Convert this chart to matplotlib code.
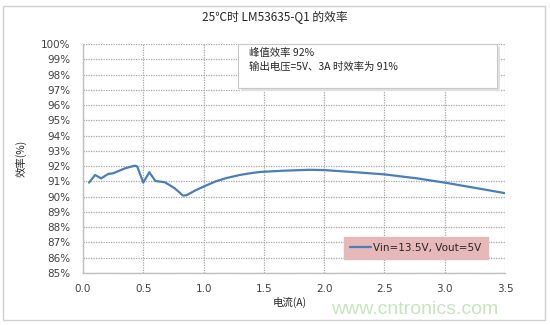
import matplotlib
matplotlib.use("Agg")
import matplotlib.pyplot as plt
from matplotlib.patches import Rectangle
from matplotlib.ticker import FixedLocator

current = [0.05, 0.10, 0.15, 0.21, 0.25, 0.35, 0.43, 0.45, 0.50, 0.55, 0.60, 0.68,
           0.76, 0.83, 0.86, 0.93, 1.00, 1.10, 1.19, 1.30, 1.385, 1.47, 1.66, 1.88,
           2.00, 2.21, 2.50, 2.77, 3.00, 3.27, 3.50]
efficiency = [90.92, 91.42, 91.20, 91.49, 91.53, 91.86, 92.03, 91.97, 90.92, 91.60,
              91.03, 90.94, 90.55, 90.07, 90.10, 90.40, 90.66, 91.00, 91.22, 91.42,
              91.53, 91.62, 91.70, 91.76, 91.74, 91.63, 91.46, 91.20, 90.92, 90.55,
              90.23]
x_ticks = [0.0, 0.5, 1.0, 1.5, 2.0, 2.5, 3.0, 3.5]
x_tick_labels = ["0.0", "0.5", "1.0", "1.5", "2.0", "2.5", "3.0", "3.5"]
y_ticks = list(range(85, 101))
y_tick_labels = [f"{v}%" for v in y_ticks]
series_label = "Vin=13.5V, Vout=5V"
title = "25℃时 LM53635-Q1 的效率"
note_lines = ["峰值效率 92%", "输出电压=5V、3A 时效率为 91%"]
xlabel = "电流(A)"
ylabel = "效率(%)"

CJK = ['Noto Sans CJK SC', 'DejaVu Sans']
W, H = 550, 325
fig = plt.figure(figsize=(5.5, 3.25), dpi=100)
fig.patch.set_facecolor('white')

# outer border
fig.add_artist(Rectangle((3 / W, 1 - 320 / H), 542 / W, 314 / H, transform=fig.transFigure,
                         fill=False, edgecolor='#d0d0d0', linewidth=1.0))

ax = fig.add_axes([83 / W, 1 - 273 / H, 422 / W, 229 / H])
ax.plot(current, efficiency, color='#4a7ebb', linewidth=1.6, label=series_label,
        solid_capstyle='round', solid_joinstyle='round')
ax.set_xlim(0, 3.5)
ax.set_ylim(85, 100)
ax.xaxis.set_major_locator(FixedLocator(x_ticks))
ax.set_xticklabels(x_tick_labels)
ax.yaxis.set_major_locator(FixedLocator(y_ticks))
ax.set_yticklabels(y_tick_labels)
ax.tick_params(axis='both', length=0, labelsize=7.5, colors='#404040')
ax.tick_params(axis='y', pad=9)
ax.tick_params(axis='x', pad=8)
ax.grid(True, color='#a6a6a6', linestyle=(0, (1, 1)), linewidth=0.9)
for s in ['top', 'right']:
    ax.spines[s].set_visible(False)
for s in ['left', 'bottom']:
    ax.spines[s].set_color('#bfbfbf')
    ax.spines[s].set_linewidth(1.0)

fig.text(275 / W, 1 - 18 / H, title, ha='center', va='center', fontsize=8.5,
         family=CJK, color='#262626')
fig.text(290 / W, 1 - 302 / H, xlabel, ha='center', va='center', fontsize=7.5,
         family=CJK, color='#262626')
fig.text(21 / W, 1 - 158 / H, ylabel, ha='center', va='center', fontsize=7.5,
         family=CJK, color='#262626', rotation=90)

# annotation box with shadow
fig.add_artist(Rectangle((241 / W, 1 - 91 / H), 259 / W, 44 / H, transform=fig.transFigure,
                         facecolor='#e0e0e0', edgecolor='none', zorder=5))
fig.add_artist(Rectangle((238 / W, 1 - 88 / H), 259 / W, 44 / H, transform=fig.transFigure,
                         facecolor='white', edgecolor='#c8c8c8', linewidth=0.8, zorder=6))
fig.text(249 / W, 1 - 53 / H, note_lines[0], ha='left', va='center', fontsize=7.5,
         family=CJK, color='#262626', zorder=7)
fig.text(249 / W, 1 - 67 / H, note_lines[1], ha='left', va='center', fontsize=7.5,
         family=CJK, color='#262626', zorder=7)

leg = ax.legend(loc='center', bbox_to_anchor=(416 / W, 1 - 248 / H),
                bbox_transform=fig.transFigure, fontsize=7.5, frameon=True,
                fancybox=False, handlelength=2.0, handletextpad=0.2,
                borderpad=0.6, borderaxespad=0)
leg.get_frame().set_facecolor('#e6b8b7')
leg.get_frame().set_edgecolor('#e6b8b7')
leg.get_frame().set_alpha(1.0)
for t in leg.get_texts():
    t.set_color('#262626')

fig.text(415 / W, 1 - 310 / H, "www.cntronics.com", ha='center', va='center',
         fontsize=14, family=['Liberation Sans', 'DejaVu Sans'], color='#bfe3b6', alpha=0.9)

fig.savefig('out.png', dpi=100, facecolor='white')
